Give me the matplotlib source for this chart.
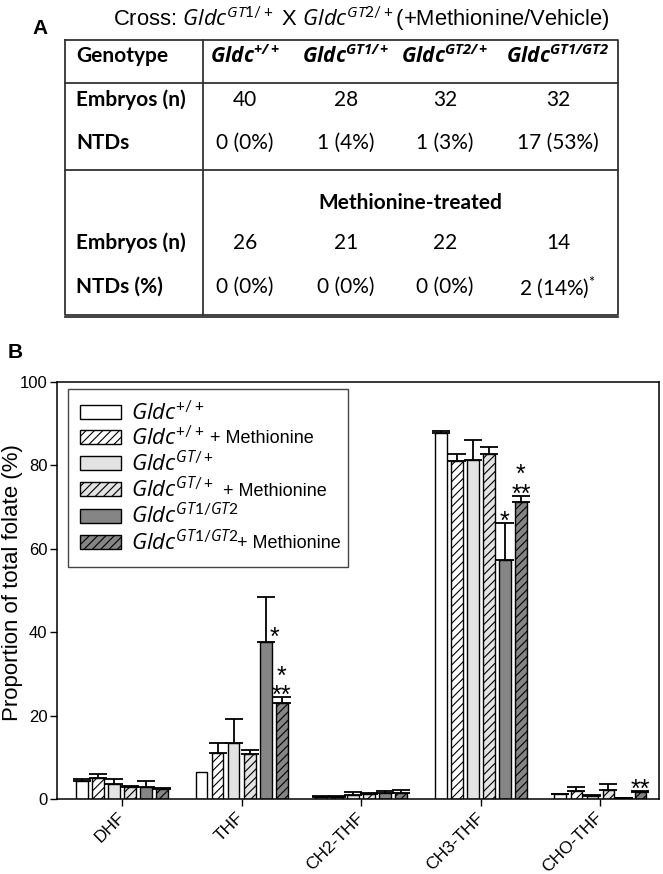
import numpy as np
import matplotlib
matplotlib.use("Agg")
import matplotlib.pyplot as plt
import matplotlib.transforms as mtransforms

plt.rcParams['font.family'] = ['Liberation Sans', 'DejaVu Sans']
plt.rcParams['mathtext.fontset'] = 'custom'
plt.rcParams['mathtext.rm'] = 'Lato'
plt.rcParams['mathtext.it'] = 'Open Sans:italic'
plt.rcParams['mathtext.bf'] = 'Lato:bold'
plt.rcParams['mathtext.bfit'] = 'Open Sans:bold:italic'
plt.rcParams['hatch.linewidth'] = 0.8

# ---- panel A: cross table ----
genotypes = [r'$\mathbfit{Gldc}^{\mathbfit{+/+}}$', r'$\mathbfit{Gldc}^{\mathbfit{GT1/+}}$',
             r'$\mathbfit{Gldc}^{\mathbfit{GT2/+}}$', r'$\mathbfit{Gldc}^{\mathbfit{GT1/GT2}}$']
embryos = ['40', '28', '32', '32']
ntds = ['0 (0%)', '1 (4%)', '1 (3%)', '17 (53%)']
embryos_met = ['26', '21', '22', '14']
ntds_met = ['0 (0%)', '0 (0%)', '0 (0%)', r'2 (14%)$^{*}$']

# ---- panel B: folate proportions (%) ----
folates = ['DHF', 'THF', 'CH2-THF', 'CH3-THF', 'CHO-THF']
wt = [4.5, 6.5, 0.6, 87.6, 1.2]
wt_met = [5.0, 11.1, 0.6, 80.9, 1.9]
het = [3.6, 13.5, 1.0, 81.3, 0.9]
het_met = [3.0, 10.9, 1.3, 82.8, 2.2]
mut = [2.9, 37.6, 1.4, 57.2, 0.3]
mut_met = [2.5, 23.0, 1.6, 71.2, 1.8]

wt_err = [0.4, 0.0, 0.1, 0.5, 0.1]
wt_met_err = [1.0, 2.4, 0.1, 1.8, 1.0]
het_err = [1.3, 5.7, 0.7, 4.8, 0.1]
het_met_err = [0.2, 0.9, 0.2, 1.6, 1.4]
mut_err = [1.6, 10.9, 0.7, 8.9, 0.05]
mut_met_err = [0.1, 1.4, 0.6, 1.4, 0.2]

labels = [r'$\mathit{Gldc}^{\mathit{+/+}}$', r'$\mathit{Gldc}^{\mathit{+/+}}$',
          r'$\mathit{Gldc}^{\mathit{GT/+}}$', r'$\mathit{Gldc}^{\mathit{GT/+}}$',
          r'$\mathit{Gldc}^{\mathit{GT1/GT2}}$', r'$\mathit{Gldc}^{\mathit{GT1/GT2}}$']
with_met = [False, True, False, True, False, True]
met_gap = [0, 5, 0, 9, 0, -2]   # px between genotype and "+ Methionine"

# (folate, series, significance marks)
stars = [(1, 4, '*'), (1, 5, '*\n**'), (3, 4, '*'), (3, 5, '*\n**'), (4, 5, '**')]

fig = plt.figure(figsize=(6.63, 8.74), dpi=100)

# table drawn in pixel coords
at = fig.add_axes([0, 0, 1, 1])
at.set_xlim(0, 663)
at.set_ylim(874, 0)
at.axis('off')

lc = '#333333'
at.plot([65, 618, 618, 65, 65], [40, 40, 315, 315, 40], color=lc, lw=1.3)
at.plot([203, 203], [40, 315], color=lc, lw=1.3)
at.plot([65, 618], [83, 83], color=lc, lw=1.3)
at.plot([65, 618], [170, 170], color=lc, lw=1.3)
at.plot([65, 618], [316.5, 316.5], color=lc, lw=1.3)

at.text(40, 28, 'A', fontsize=15, fontweight='bold', ha='center', va='center')
at.text(113, 26, r'Cross: $\mathit{Gldc}^{\mathit{GT1/+}}$ X $\mathit{Gldc}^{\mathit{GT2/+}}$(+Methionine/Vehicle)',
        fontsize=15.8, ha='left', va='baseline')

tfont = dict(family='Lato', fontsize=15)
col_x = [245, 346, 445, 558]
at.text(76, 56, 'Genotype', ha='left', va='center', fontweight='bold', **tfont)
at.text(76, 100, 'Embryos (n)', ha='left', va='center', fontweight='bold', **tfont)
at.text(76, 143, 'NTDs', ha='left', va='center', fontweight='bold', **tfont)
at.text(410, 203, 'Methionine-treated', ha='center', va='center', fontweight='bold', **tfont)
at.text(76, 243, 'Embryos (n)', ha='left', va='center', fontweight='bold', **tfont)
at.text(76, 287, 'NTDs (%)', ha='left', va='center', fontweight='bold', **tfont)
for cx, g, e, n, em, nm in zip(col_x, genotypes, embryos, ntds, embryos_met, ntds_met):
    at.text(cx, 56, g, ha='center', va='center', **tfont)
    at.text(cx, 100, e, ha='center', va='center', **tfont)
    at.text(cx, 143, n, ha='center', va='center', **tfont)
    at.text(cx, 243, em, ha='center', va='center', **tfont)
    at.text(cx, 287, nm, ha='center', va='center', **tfont)

# bar chart
ax = fig.add_axes([57 / 663, 1 - 799.3 / 874, 602 / 663, 417.6 / 874])
means = [wt, wt_met, het, het_met, mut, mut_met]
errs = [wt_err, wt_met_err, het_err, het_met_err, mut_err, mut_met_err]
colors = ['white', 'white', '#e3e3e3', '#e3e3e3', '#858585', '#858585']
hatches = [None, '////', None, '////', None, '////']

x = np.arange(len(folates))
pitch = 0.134
width = 0.098
for i in range(6):
    pos = x + (i - 2.5) * pitch
    ax.bar(pos, means[i], width, color=colors[i], edgecolor='black', hatch=hatches[i],
           linewidth=1, label=labels[i], zorder=2)
    e = np.array(errs[i])
    keep = e > 0
    ax.errorbar(pos[keep], np.array(means[i])[keep], yerr=[np.zeros(keep.sum()), e[keep]],
                fmt='none', ecolor='black', elinewidth=1.3, capsize=6.5, capthick=1.3, zorder=1)

for f, s, marks in stars:
    px = x[f] + (s - 2.5) * pitch
    if f == 1 and s == 4:
        # sits beside the long error bar
        ax.annotate(marks, (px, means[s][f]), xytext=(6.5, -2), textcoords='offset points',
                    fontsize=18, ha='center', va='baseline')
        continue
    top = means[s][f] + errs[s][f]
    ax.annotate(marks, (px, top), xytext=(0, -7.5), textcoords='offset points',
                fontsize=18, ha='center', va='bottom', linespacing=0.75, multialignment='center')

ax.set_xlim(-0.544, 4.49)
ax.set_ylim(0, 100)
ax.set_yticks([0, 20, 40, 60, 80, 100])
ax.set_xticks(x)
ax.set_xticklabels(folates, rotation=45, ha='right', va='center', rotation_mode='anchor', fontsize=12.5)
shift = mtransforms.ScaledTranslation(0.10, 0, fig.dpi_scale_trans)
for lab in ax.get_xticklabels():
    lab.set_transform(lab.get_transform() + shift)
ax.tick_params(axis='y', labelsize=12, length=5, width=1, direction='out', pad=2)
ax.tick_params(axis='x', length=5, width=1, direction='out', pad=6.3)
ax.set_ylabel('Proportion of total folate (%)', fontsize=16)
ax.yaxis.set_label_coords(-0.056, 0.52)
for sp in ax.spines.values():
    sp.set_linewidth(1.1)

leg = ax.legend(loc='upper left', bbox_to_anchor=(0.018, 0.5, 0.465, 0.4825), mode='expand',
                borderaxespad=0, fontsize=16, handlelength=1.85, handleheight=0.6,
                handletextpad=0.45, labelspacing=0.05, borderpad=0.55, fancybox=False,
                framealpha=1, edgecolor='#444444')
leg.get_frame().set_linewidth(1)

# "+ Methionine" in a smaller upright font, after the italic genotype
fig.canvas.draw()
inv = fig.transFigure.inverted()
for t, h, met, gap in zip(leg.get_texts(), leg.legend_handles, with_met, met_gap):
    if met:
        tb = t.get_window_extent()
        hb = h.get_window_extent()
        fx, fy = inv.transform((tb.x1 + gap, (hb.y0 + hb.y1) / 2 - 2))
        fig.text(fx, fy, '+ Methionine', fontsize=13, ha='left', va='center')

fig.text(15 / 663, 1 - 352 / 874, 'B', fontsize=15, fontweight='bold', ha='center', va='center')

fig.savefig('out.png', dpi=100)
